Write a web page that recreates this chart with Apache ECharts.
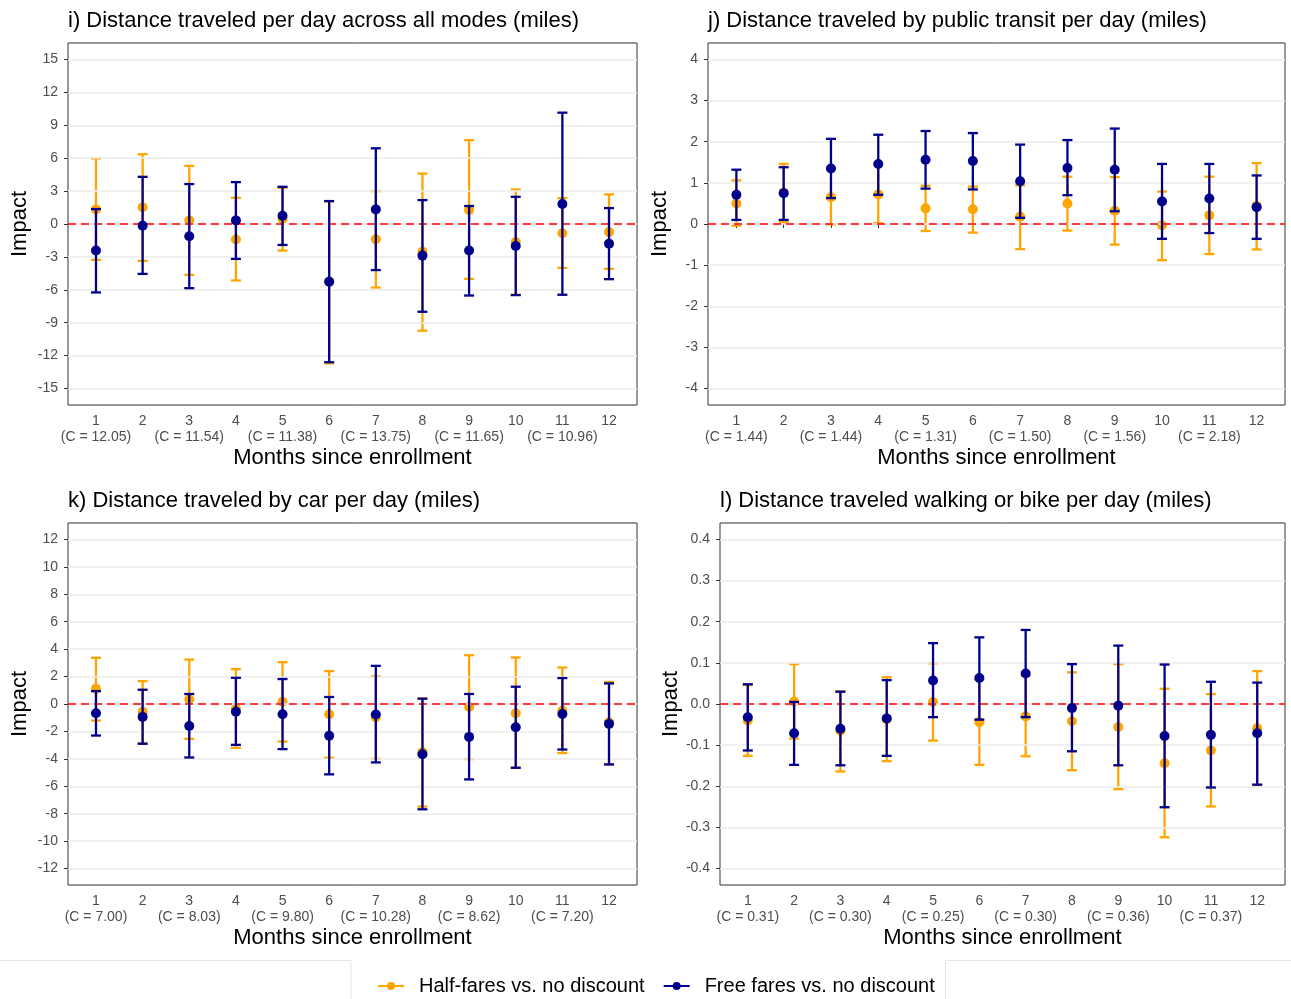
<!DOCTYPE html>
<html>
<head>
<meta charset="utf-8">
<title>Impact on distance traveled by months since enrollment</title>
<script src="https://cdn.jsdelivr.net/npm/echarts@6/dist/echarts.min.js"></script>
<style>
  html, body { margin: 0; padding: 0; background: #ffffff; }
  #chart { width: 1291px; height: 999px; }
</style>
</head>
<body>
<div id="chart"></div>
<script>
// ---- Data -------------------------------------------------------------
const months = [1, 2, 3, 4, 5, 6, 7, 8, 9, 10, 11, 12];
const seriesNames = ['Half-fares vs. no discount', 'Free fares vs. no discount'];

// i) all modes
const allC = ['12.05', '11.54', '11.38', '13.75', '11.65', '10.96'];
const allHalfEst = [1.33, 1.52, 0.33, -1.42, 0.45, -5.25, -1.39, -2.52, 1.27, -1.64, -0.85, -0.73];
const allHalfLo  = [-3.27, -3.36, -4.64, -5.15, -2.42, -12.7, -5.79, -9.73, -5.0, -6.45, -4.0, -4.09];
const allHalfHi  = [5.97, 6.36, 5.3, 2.39, 3.3, 2.05, 3.0, 4.6, 7.64, 3.15, 2.36, 2.7];
const allFreeEst = [-2.42, -0.15, -1.12, 0.33, 0.76, -5.27, 1.33, -2.88, -2.42, -2.0, 1.82, -1.79];
const allFreeLo  = [-6.24, -4.55, -5.85, -3.18, -1.91, -12.6, -4.2, -8.0, -6.52, -6.48, -6.45, -5.03];
const allFreeHi  = [1.36, 4.3, 3.64, 3.82, 3.39, 2.09, 6.9, 2.18, 1.64, 2.48, 10.15, 1.45];
const allTicks   = [-15, -12, -9, -6, -3, 0, 3, 6, 9, 12, 15];

// j) public transit
const transitC = ['1.44', '1.44', '1.31', '1.50', '1.56', '2.18'];
const transitHalfEst = [0.50, 0.76, 0.65, 0.72, 0.38, 0.36, 0.18, 0.50, 0.32, -0.03, 0.21, 0.44];
const transitHalfLo  = [-0.04, 0.04, -0.01, 0.02, -0.17, -0.21, -0.61, -0.16, -0.50, -0.88, -0.73, -0.62];
const transitHalfHi  = [1.06, 1.46, 1.36, 1.44, 0.93, 0.91, 0.94, 1.15, 1.14, 0.79, 1.15, 1.48];
const transitFreeEst = [0.71, 0.75, 1.35, 1.46, 1.56, 1.53, 1.04, 1.36, 1.32, 0.55, 0.62, 0.41];
const transitFreeLo  = [0.10, 0.10, 0.63, 0.71, 0.86, 0.84, 0.15, 0.70, 0.31, -0.36, -0.22, -0.36];
const transitFreeHi  = [1.32, 1.38, 2.07, 2.17, 2.26, 2.21, 1.93, 2.04, 2.32, 1.46, 1.46, 1.18];
const transitTicks   = [-4, -3, -2, -1, 0, 1, 2, 3, 4];

// k) car
const carC = ['7.00', '8.03', '9.80', '10.28', '8.62', '7.20'];
const carHalfEst = [1.11, -0.56, 0.34, -0.34, 0.17, -0.75, -0.97, -3.51, -0.22, -0.68, -0.48, -1.33];
const carHalfLo  = [-1.21, -2.86, -2.54, -3.2, -2.74, -3.92, -4.0, -7.48, -4.02, -4.65, -3.58, -4.38];
const carHalfHi  = [3.37, 1.67, 3.24, 2.54, 3.05, 2.40, 2.01, 0.40, 3.56, 3.39, 2.66, 1.6];
const carFreeEst = [-0.68, -0.94, -1.60, -0.56, -0.75, -2.32, -0.77, -3.66, -2.40, -1.69, -0.73, -1.45];
const carFreeLo  = [-2.30, -2.90, -3.90, -2.98, -3.29, -5.13, -4.26, -7.68, -5.50, -4.65, -3.32, -4.41];
const carFreeHi  = [0.94, 1.04, 0.73, 1.91, 1.82, 0.51, 2.78, 0.39, 0.73, 1.26, 1.89, 1.50];
const carTicks   = [-12, -10, -8, -6, -4, -2, 0, 2, 4, 6, 8, 10, 12];

// l) walking or bike
const walkC = ['0.31', '0.30', '0.25', '0.30', '0.36', '0.37'];
const walkHalfEst = [-0.040, 0.006, -0.065, -0.037, 0.005, -0.044, -0.030, -0.042, -0.056, -0.144, -0.113, -0.059];
const walkHalfLo  = [-0.126, -0.084, -0.164, -0.139, -0.089, -0.148, -0.127, -0.161, -0.207, -0.324, -0.249, -0.198];
const walkHalfHi  = [0.046, 0.097, 0.030, 0.065, 0.099, 0.060, 0.069, 0.077, 0.097, 0.037, 0.024, 0.080];
const walkFreeEst = [-0.032, -0.071, -0.060, -0.035, 0.057, 0.063, 0.074, -0.010, -0.004, -0.078, -0.075, -0.071];
const walkFreeLo  = [-0.113, -0.148, -0.149, -0.126, -0.032, -0.038, -0.032, -0.115, -0.149, -0.251, -0.203, -0.196];
const walkFreeHi  = [0.048, 0.005, 0.030, 0.058, 0.148, 0.162, 0.180, 0.097, 0.142, 0.096, 0.054, 0.052];
const walkTicks   = [-0.4, -0.3, -0.2, -0.1, 0, 0.1, 0.2, 0.3, 0.4];

// ---- Panels -----------------------------------------------------------
const panels = [
  { title: 'i) Distance traveled per day across all modes (miles)', c: allC, ticks: allTicks, decimals: 0,
    half: [allHalfEst, allHalfLo, allHalfHi], free: [allFreeEst, allFreeLo, allFreeHi],
    grid: { left: 68, top: 43, width: 569, height: 362 } },
  { title: 'j) Distance traveled by public transit per day (miles)', c: transitC, ticks: transitTicks, decimals: 0,
    half: [transitHalfEst, transitHalfLo, transitHalfHi], free: [transitFreeEst, transitFreeLo, transitFreeHi],
    grid: { left: 708, top: 43, width: 577, height: 362 } },
  { title: 'k) Distance traveled by car per day (miles)', c: carC, ticks: carTicks, decimals: 0,
    half: [carHalfEst, carHalfLo, carHalfHi], free: [carFreeEst, carFreeLo, carFreeHi],
    grid: { left: 68, top: 523, width: 569, height: 362 } },
  { title: 'l) Distance traveled walking or bike per day (miles)', c: walkC, ticks: walkTicks, decimals: 1,
    half: [walkHalfEst, walkHalfLo, walkHalfHi], free: [walkFreeEst, walkFreeLo, walkFreeHi],
    grid: { left: 720, top: 523, width: 565, height: 362 } }
];

const ORANGE = '#FFA500';
const NAVY = '#00008B';
const FONT = '"Liberation Sans", Arial, Helvetica, sans-serif';
const TICK_GREY = '#4d4d4d';

// vertical error bar with caps
function renderErrorBar(params, api) {
  const x = api.value(0);
  const top = api.coord([x, api.value(2)]);
  const bot = api.coord([x, api.value(1)]);
  const half = 5;
  const style = { stroke: api.visual('color'), lineWidth: 2.3, fill: null };
  return {
    type: 'group',
    children: [
      { type: 'line', shape: { x1: top[0], y1: top[1], x2: bot[0], y2: bot[1] }, style: style },
      { type: 'line', shape: { x1: top[0] - half, y1: top[1], x2: top[0] + half, y2: top[1] }, style: style },
      { type: 'line', shape: { x1: bot[0] - half, y1: bot[1], x2: bot[0] + half, y2: bot[1] }, style: style }
    ]
  };
}

const grids = [], xAxes = [], yAxes = [], series = [], titles = [];

panels.forEach(function (p, i) {
  const span = p.ticks[p.ticks.length - 1] * 1.1;
  grids.push(Object.assign({ show: true, borderColor: '#333333', borderWidth: 1, backgroundColor: 'transparent' }, p.grid));

  titles.push({
    text: p.title, left: p.grid.left, top: p.grid.top - 33, padding: 0,
    textStyle: { fontFamily: FONT, fontSize: 22, fontWeight: 'normal', color: '#000000' }
  });

  xAxes.push({
    type: 'value', gridIndex: i, min: 0.4, max: 12.6,
    name: 'Months since enrollment', nameLocation: 'middle', nameGap: 42,
    nameTextStyle: { fontFamily: FONT, fontSize: 22, color: '#000000' },
    axisLine: { show: false },
    splitLine: { show: false },
    axisTick: { show: true, length: 4, customValues: months, lineStyle: { color: '#333333', width: 1 } },
    axisLabel: {
      customValues: months, margin: 8, fontFamily: FONT, fontSize: 14, lineHeight: 16, color: TICK_GREY,
      formatter: function (v) {
        const m = Math.round(v);
        return m % 2 === 1 ? m + '\n(C = ' + p.c[(m - 1) / 2] + ')' : String(m);
      }
    }
  });

  yAxes.push({
    type: 'value', gridIndex: i, min: -span, max: span,
    name: 'Impact', nameLocation: 'middle', nameGap: 37, nameRotate: 90,
    nameTextStyle: { fontFamily: FONT, fontSize: 22, color: '#000000' },
    axisLine: { show: false },
    splitLine: { show: false },
    axisTick: { show: true, length: 4, customValues: p.ticks, lineStyle: { color: '#333333', width: 1 } },
    axisLabel: {
      customValues: p.ticks, margin: 10, fontFamily: FONT, fontSize: 14, color: TICK_GREY,
      formatter: function (v) { return Number(v).toFixed(p.decimals); }
    }
  });

  // horizontal grid lines and the dashed zero reference
  series.push({
    type: 'line', xAxisIndex: i, yAxisIndex: i, data: [], silent: true, z: 1,
    markLine: {
      silent: true, symbol: 'none', animation: false,
      label: { show: false },
      lineStyle: { color: '#ebebeb', width: 1.5, type: 'solid' },
      emphasis: { disabled: true },
      data: p.ticks.map(function (t) { return { yAxis: t }; })
    }
  });
  series.push({
    type: 'line', xAxisIndex: i, yAxisIndex: i, data: [], silent: true, z: 2,
    markLine: {
      silent: true, symbol: 'none', animation: false,
      label: { show: false },
      lineStyle: { color: '#FF0000', width: 1.6, type: [8, 5] },
      emphasis: { disabled: true },
      data: [{ yAxis: 0 }]
    }
  });

  [[p.half, ORANGE, seriesNames[0]], [p.free, NAVY, seriesNames[1]]].forEach(function (g, k) {
    const est = g[0][0], lo = g[0][1], hi = g[0][2];
    series.push({
      type: 'custom', name: g[2], xAxisIndex: i, yAxisIndex: i, z: 3 + k * 2,
      itemStyle: { color: g[1] },
      renderItem: renderErrorBar,
      encode: { x: 0, y: [1, 2] },
      data: months.map(function (m, j) { return [m, lo[j], hi[j]]; })
    });
    series.push({
      type: 'scatter', name: g[2], xAxisIndex: i, yAxisIndex: i, z: 4 + k * 2,
      symbol: 'circle', symbolSize: 10,
      itemStyle: { color: g[1], opacity: 1 },
      data: months.map(function (m, j) { return [m, est[j]]; })
    });
  });
});

const chart = echarts.init(document.getElementById('chart'), null, { renderer: 'canvas' });
chart.setOption({
  animation: false,
  backgroundColor: '#ffffff',
  title: titles,
  grid: grids,
  xAxis: xAxes,
  yAxis: yAxes,
  legend: {
    data: seriesNames,
    left: 378, top: 976, padding: 0, itemGap: 19, itemWidth: 26, itemHeight: 8,
    // line with a dot; both sub-paths wind clockwise so the dot stays solid
    icon: 'path://M0,4L26,4L26,6L0,6Z M9,5a4,4 0 1,1 8,0a4,4 0 1,1 -8,0Z',
    textStyle: { fontFamily: FONT, fontSize: 20, color: '#000000', padding: [0, 0, 0, 10] }
  },
  graphic: [
    { type: 'rect', silent: true, shape: { x: -2, y: 960.5, width: 353, height: 60 },
      style: { fill: null, stroke: '#e8e8e8', lineWidth: 1 } },
    { type: 'rect', silent: true, shape: { x: 945.5, y: 960.5, width: 360, height: 60 },
      style: { fill: null, stroke: '#e8e8e8', lineWidth: 1 } }
  ],
  series: series
});
</script>
</body>
</html>
